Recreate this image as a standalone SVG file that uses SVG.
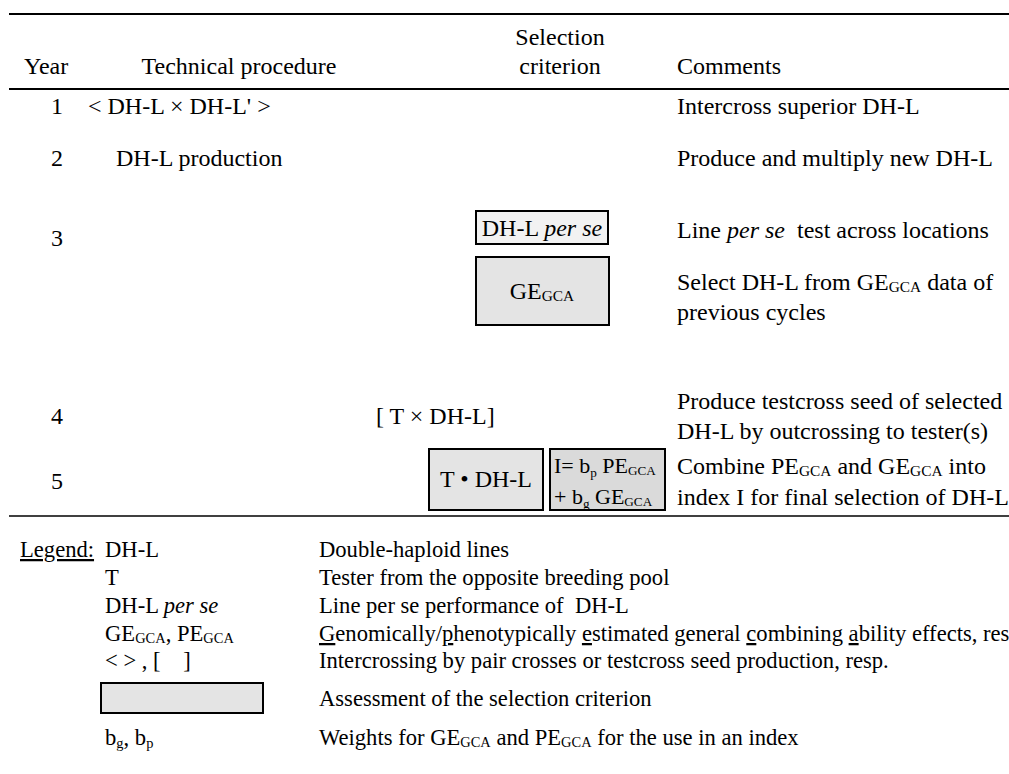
<svg xmlns="http://www.w3.org/2000/svg" width="1009" height="774" viewBox="0 0 1009 774">
<style>
text{font-family:"Liberation Serif","Times New Roman",serif;fill:#000}
.h{font-size:24px}
.r{font-size:24px}
.c{font-size:24px}
.l{font-size:22.6px}
.bx{font-size:22px}
.rule{stroke:#000;fill:none}
.box{stroke:#000;stroke-width:2}
.sub{font-size:64%}
.bx .sub{font-size:60%}
</style>
<rect width="1009" height="774" fill="#fff"/>
<g id="rules">
<line class="rule" x1="9" y1="14" x2="1009" y2="14" stroke-width="2.2"/>
<line class="rule" x1="9" y1="89" x2="1009" y2="89" stroke-width="2.2"/>
<line class="rule" x1="9" y1="516" x2="1009" y2="516" stroke-width="1.5"/>
</g>
<g id="header">
<text class="h" x="24" y="74">Year</text>
<text class="h" x="239" y="74" text-anchor="middle">Technical procedure</text>
<text class="h" x="560" y="45" text-anchor="middle">Selection</text>
<text class="h" x="560" y="74" text-anchor="middle">criterion</text>
<text class="c" x="677" y="74" font-size="23">Comments</text>
</g>
<g id="years">
<text class="r" x="57" y="114" text-anchor="middle">1</text>
<text class="r" x="57" y="166" text-anchor="middle">2</text>
<text class="r" x="57" y="246" text-anchor="middle">3</text>
<text class="r" x="57" y="424" text-anchor="middle">4</text>
<text class="r" x="57" y="489" text-anchor="middle">5</text>
</g>
<g id="proc1"><text class="r" x="88" y="114">&lt; DH-L × DH-L'&#160;&gt;</text></g>
<g id="proc2"><text class="r" x="116" y="166">DH-L production</text></g>
<g id="proc4"><text class="r" x="376" y="424">[ T × DH-L]</text></g>
<g id="crit-perse">
<rect class="box" x="476" y="211" width="132" height="33" fill="#f2f2f2"/>
<text class="r" x="542" y="236" text-anchor="middle">DH-L <tspan font-style="italic">per se</tspan></text>
</g>
<g id="crit-ge">
<rect class="box" x="476" y="257" width="133" height="68" fill="#e4e4e4"/>
<text class="r" x="542" y="299" text-anchor="middle">GE<tspan class="sub" dy="2">GCA</tspan></text>
</g>
<g id="crit-tdhl">
<rect class="box" x="429" y="449" width="114" height="61" fill="#e4e4e4"/>
<text class="r" x="486" y="487" text-anchor="middle">T • DH-L</text>
</g>
<g id="crit-index">
<rect class="box" x="550" y="449" width="115" height="61" fill="#dadada"/>
<text class="bx" x="554" y="473">I= b<tspan class="sub" dy="4">p</tspan><tspan dy="-4"> PE</tspan><tspan class="sub" dy="2">GCA</tspan></text>
<text class="bx" x="554" y="504">+ b<tspan class="sub" dy="4">g</tspan><tspan dy="-4"> GE</tspan><tspan class="sub" dy="2">GCA</tspan></text>
</g>
<g id="comments">
<text class="c" x="677" y="114">Intercross superior DH-L</text>
<text class="c" x="677" y="166">Produce and multiply new DH-L</text>
<text class="c" x="677" y="238">Line <tspan font-style="italic">per se</tspan>&#160; test across locations</text>
<text class="c" x="677" y="290">Select DH-L from GE<tspan class="sub" dy="2">GCA</tspan><tspan dy="-2"> data of</tspan></text>
<text class="c" x="677" y="320">previous cycles</text>
<text class="c" x="677" y="409">Produce testcross seed of selected</text>
<text class="c" x="677" y="439">DH-L by outcrossing to tester(s)</text>
<text class="c" x="677" y="474">Combine PE<tspan class="sub" dy="2">GCA</tspan><tspan dy="-2"> and GE</tspan><tspan class="sub" dy="2">GCA</tspan><tspan dy="-2"> into</tspan></text>
<text class="c" x="677" y="505">index I for final selection of DH-L</text>
</g>
<g id="legend">
<text class="l" x="20" y="557" text-decoration="underline">Legend:</text>
<text class="l" x="105" y="557">DH-L</text>
<text class="l" x="319" y="557">Double-haploid lines</text>
<text class="l" x="105" y="585">T</text>
<text class="l" x="319" y="585">Tester from the opposite breeding pool</text>
<text class="l" x="105" y="613">DH-L <tspan font-style="italic">per se</tspan></text>
<text class="l" x="319" y="613">Line per se performance of&#160; DH-L</text>
<text class="l" x="105" y="641">GE<tspan class="sub" dy="2">GCA</tspan><tspan dy="-2">, PE</tspan><tspan class="sub" dy="2">GCA</tspan></text>
<text class="l" x="319" y="641"><tspan text-decoration="underline">G</tspan>enomically/<tspan text-decoration="underline">p</tspan>henotypically <tspan text-decoration="underline">e</tspan>stimated <tspan text-decoration="underline">g</tspan>eneral <tspan text-decoration="underline">c</tspan>ombining <tspan text-decoration="underline">a</tspan>bility effects, resp.</text>
<text class="l" x="105" y="668">&lt; &gt; , [&#160;&#160;&#160; ]</text>
<text class="l" x="319" y="668">Intercrossing by pair crosses or testcross seed production, resp.</text>
<rect class="box" x="101" y="683" width="162" height="30" fill="#e4e4e4"/>
<text class="l" x="319" y="706">Assessment of the selection criterion</text>
<text class="l" x="105" y="745">b<tspan class="sub" dy="3">g</tspan><tspan dy="-3">, b</tspan><tspan class="sub" dy="3">p</tspan></text>
<text class="l" x="319" y="745">Weights for GE<tspan class="sub" dy="2">GCA</tspan><tspan dy="-2"> and PE</tspan><tspan class="sub" dy="2">GCA</tspan><tspan dy="-2"> for the use in an index</tspan></text>
</g>
</svg>
